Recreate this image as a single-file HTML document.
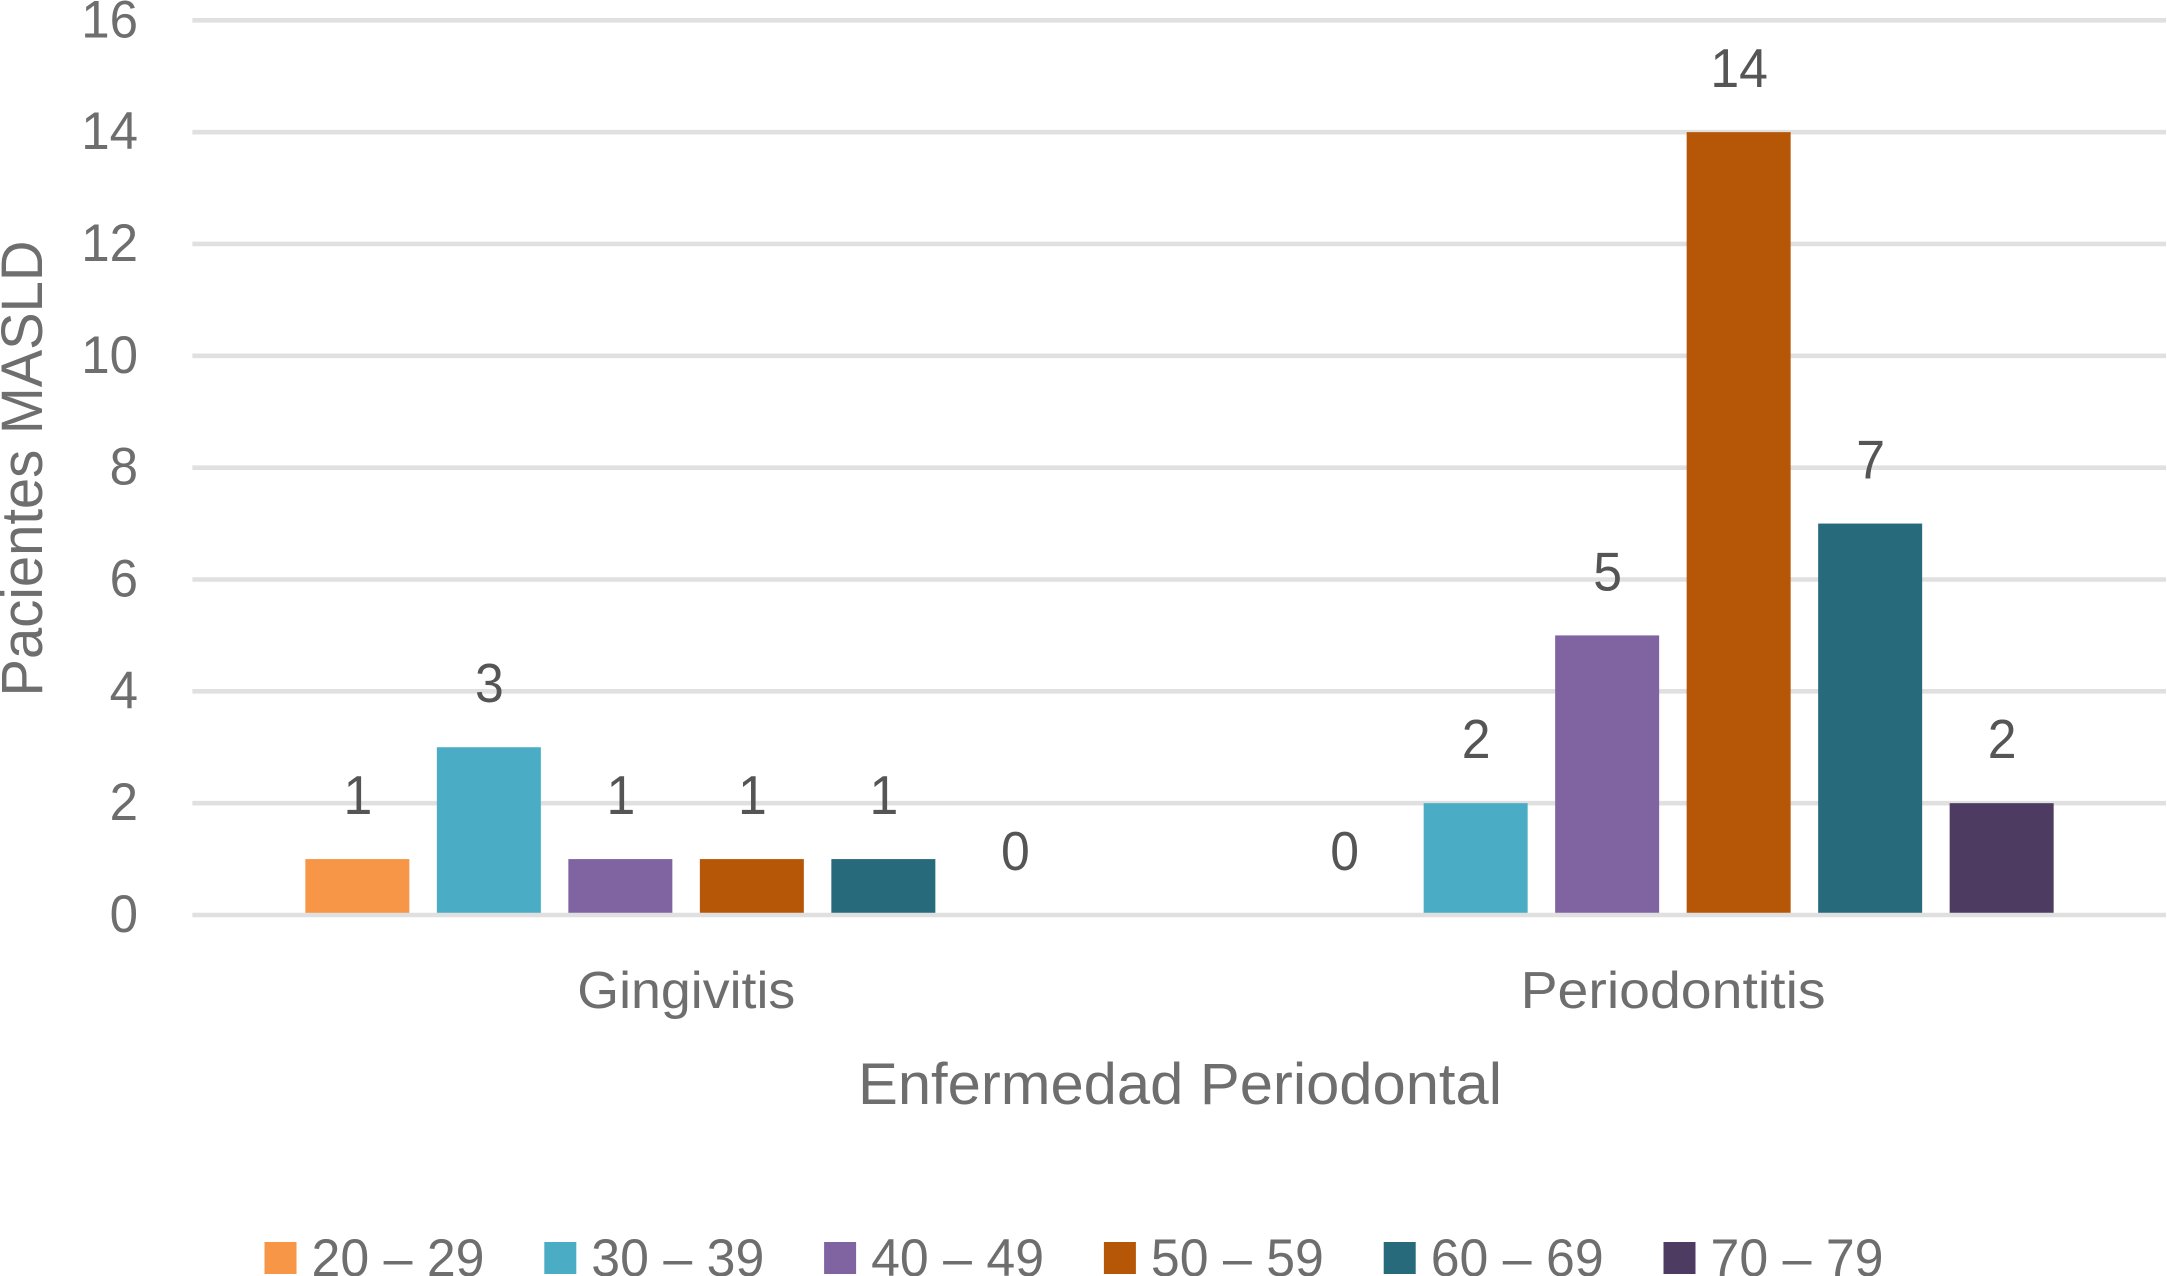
<!DOCTYPE html>
<html lang="es">
<head>
<meta charset="utf-8">
<title>Enfermedad Periodontal - Pacientes MASLD</title>
<style>
  html, body { margin: 0; padding: 0; background: #fff; }
  body { width: 2167px; height: 1276px; overflow: hidden; }
  svg { display: block; font-family: "Liberation Sans", Arial, sans-serif; }
</style>
</head>
<body>
<svg id="chart" xmlns="http://www.w3.org/2000/svg" width="2167" height="1276" viewBox="0 0 2167 1276">
  <rect x="0" y="0" width="2167" height="1276" fill="#ffffff"></rect>
  <g id="grid"></g>
  <g id="yticks"></g>
  <g id="bars"></g>
  <g id="baseline"></g>
  <g id="labels"></g>
  <g id="xticks"></g>
  <text transform="translate(42 468.5) rotate(-90)" text-anchor="middle" font-size="58" fill="#6e6e6e" textLength="456" lengthAdjust="spacingAndGlyphs">Pacientes MASLD</text>
  <text x="1180" y="1104" text-anchor="middle" font-size="58" fill="#6e6e6e" textLength="644" lengthAdjust="spacingAndGlyphs">Enfermedad Periodontal</text>
  <g id="legend"></g>
</svg>
<script>
const categories = ["Gingivitis", "Periodontitis"];
const seriesNames = ["20 – 29", "30 – 39", "40 – 49", "50 – 59", "60 – 69", "70 – 79"];
const seriesColors = ["#F79646", "#4BACC6", "#8064A2", "#B65708", "#276A7C", "#4D3B62"];
const valuesGingivitis = [1, 3, 1, 1, 1, 0];
const valuesPeriodontitis = [0, 2, 5, 14, 7, 2];
const yTicks = [0, 2, 4, 6, 8, 10, 12, 14, 16];

const seriesByCategory = [valuesGingivitis, valuesPeriodontitis];
const NS = "http://www.w3.org/2000/svg";
const plot = { left: 192.4, right: 2166, zero: 915, top: 20.3, max: 16 };

function y(v) {
  return plot.zero - (v / plot.max) * (plot.zero - plot.top);
}
function categoryCenter(c) {
  const band = (plot.right - plot.left) / categories.length;
  return plot.left + band * (c + 0.5);
}
function barCenter(c, s) {
  const step = 131.5;
  return categoryCenter(c) + (s - (seriesNames.length - 1) / 2) * step;
}
function make(tag, attrs, parent) {
  const el = document.createElementNS(NS, tag);
  for (const k in attrs) el.setAttribute(k, attrs[k]);
  parent.appendChild(el);
  return el;
}

const gridG = document.getElementById("grid");
const yTickG = document.getElementById("yticks");
const barsG = document.getElementById("bars");
const baseG = document.getElementById("baseline");
const labelsG = document.getElementById("labels");
const xTickG = document.getElementById("xticks");
const legendG = document.getElementById("legend");

yTicks.forEach(function (t) {
  const target = t === 0 ? baseG : gridG;
  const line = make("line", { x1: plot.left, x2: plot.right, y1: y(t), y2: y(t), stroke: "#e0e0e0", "stroke-width": 4.6 }, target);
  
  
  const label = make("text", { x: 138, y: y(t) + 17, "text-anchor": "end", "font-size": 53, fill: "#6e6e6e", textLength: String(t).length * 28.4, lengthAdjust: "spacingAndGlyphs" }, yTickG);
  label.textContent = String(t);
  
  
});

seriesByCategory.forEach(function (vals, c) {
  vals.forEach(function (v, s) {
    const w = 104;
    const cx = barCenter(c, s) + 0.3;
    const rect = make("rect", { x: cx - w / 2, y: y(v), width: w, height: Math.max(0, y(0) - y(v)), fill: seriesColors[s] }, barsG);
    
    
    const txt = make("text", { x: cx + 0.5, y: y(v) - 45, "text-anchor": "middle", "font-size": 55, fill: "#555555", textLength: String(v).length * 28.8, lengthAdjust: "spacingAndGlyphs" }, labelsG);
    txt.textContent = String(v);
    
    
  });
});

categories.forEach(function (name, c) {
  const txt = make("text", { x: categoryCenter(c) + 0.5, y: 1008, "text-anchor": "middle", "font-size": 52, fill: "#6e6e6e", textLength: c === 0 ? 218 : 305, lengthAdjust: "spacingAndGlyphs" }, xTickG);
  txt.textContent = name;
  
  
});

seriesNames.forEach(function (name, s) {
  const x0 = 264.5 + 279.8 * s;
  const g = make("g", {}, legendG);
  
  
  const sw = make("rect", { x: x0, y: 1242, width: 32, height: 32, fill: seriesColors[s] }, g);
  
  
  const txt = make("text", { x: x0 + 47, y: 1276, "font-size": 53, fill: "#6e6e6e", textLength: 173, lengthAdjust: "spacingAndGlyphs" }, g);
  txt.textContent = name;
  
  
});
</script>
</body>
</html>
